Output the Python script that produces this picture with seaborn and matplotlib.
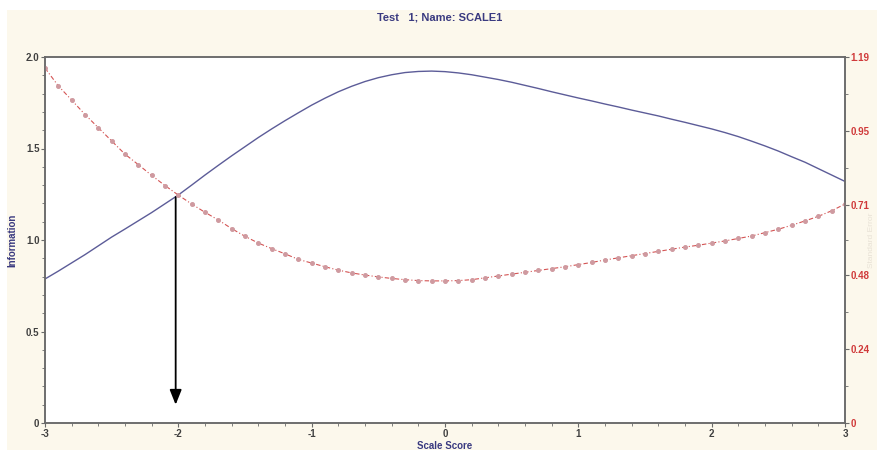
import numpy as np
import pandas as pd
import matplotlib
matplotlib.use("Agg")
import matplotlib.pyplot as plt
import seaborn as sns
from matplotlib.patches import Rectangle
from matplotlib.ticker import MultipleLocator, FixedLocator

# ==========================================
# DATA
# ==========================================
SCORES = [round(-3.0 + 0.1 * i, 1) for i in range(61)]

INFORMATION = [
    0.787, 0.830, 0.875, 0.920, 0.968, 1.016, 1.060, 1.105, 1.150, 1.198,
    1.246, 1.300, 1.355, 1.408, 1.460, 1.510, 1.560, 1.607, 1.652, 1.695,
    1.737, 1.775, 1.810, 1.840, 1.866, 1.887, 1.903, 1.915, 1.921, 1.923,
    1.920, 1.913, 1.903, 1.890, 1.877, 1.862, 1.845, 1.828, 1.810, 1.793,
    1.776, 1.760, 1.743, 1.727, 1.710, 1.694, 1.678, 1.660, 1.643, 1.625,
    1.607, 1.587, 1.565, 1.540, 1.514, 1.486, 1.455, 1.425, 1.390, 1.355,
    1.320,
]

STD_ERROR = [
    1.154, 1.096, 1.050, 1.003, 0.960, 0.917, 0.874, 0.840, 0.805, 0.772,
    0.741, 0.712, 0.685, 0.660, 0.632, 0.607, 0.585, 0.567, 0.550, 0.532,
    0.520, 0.508, 0.497, 0.488, 0.481, 0.475, 0.470, 0.466, 0.463, 0.462,
    0.462, 0.463, 0.466, 0.472, 0.478, 0.484, 0.490, 0.496, 0.502, 0.508,
    0.515, 0.522, 0.530, 0.537, 0.544, 0.551, 0.558, 0.565, 0.572, 0.578,
    0.585, 0.592, 0.600, 0.608, 0.619, 0.630, 0.643, 0.657, 0.672, 0.690,
    0.712,
]

LEFT_TICKS = [0, 0.5, 1.0, 1.5, 2.0]
LEFT_LABELS = ["0", "0.5", "1.0", "1.5", "2.0"]
RIGHT_TICKS = [0, 0.24, 0.48, 0.71, 0.95, 1.19]
RIGHT_LABELS = ["0", "0.24", "0.48", "0.71", "0.95", "1.19"]
X_TICKS = [-3, -2, -1, 0, 1, 2, 3]

ARROW_X = -2.02
ARROW_FROM = 1.235
ARROW_TO = 0.10

# ==========================================
# STYLE
# ==========================================
sns.set_theme(style="white")
plt.rcParams['font.family'] = ['Liberation Sans', 'DejaVu Sans']

NAVY = "#3a3a80"
BLUE_LINE = "#5c5c98"
RED_LINE = "#d45454"
RED_MARK = "#cf9aa0"
RED_TEXT = "#d03a3a"
CREAM = "#fcf8ec"
FRAME = "#6a6a6a"

df = pd.DataFrame({"score": SCORES, "info": INFORMATION, "se": STD_ERROR})

fig = plt.figure(figsize=(8.77, 4.5), dpi=100, facecolor="white")
fig.patches.append(Rectangle((0.008, 0), 0.992, 1 - 10 / 450, transform=fig.transFigure,
                             facecolor=CREAM, edgecolor="none", zorder=-10))

ax = fig.add_axes([45 / 877, 27 / 450, 800 / 877, 366 / 450])
ax.set_facecolor("white")

# information curve
sns.lineplot(data=df, x="score", y="info", ax=ax, color=BLUE_LINE, linewidth=1.0)
ax.set_xlim(-3, 3)
ax.set_ylim(0, 2.0)

# standard error curve on the right axis
ax2 = ax.twinx()
sns.lineplot(data=df, x="score", y="se", ax=ax2, color=RED_LINE, linewidth=0.8,
             linestyle=(0, (4, 2, 1, 2)), marker="o", markersize=2.8,
             markerfacecolor=RED_MARK, markeredgecolor=RED_MARK)
ax2.set_ylim(0, 1.19)

# arrow
ax.annotate("", xy=(ARROW_X, ARROW_TO), xytext=(ARROW_X, ARROW_FROM),
            arrowprops=dict(arrowstyle="-|>,head_length=0.75,head_width=0.3",
                            color="black", lw=1.3, shrinkA=0, shrinkB=0))

# axes / ticks
for a in (ax, ax2):
    for s in a.spines.values():
        s.set_color(FRAME)
        s.set_linewidth(1.1)

tick_font = dict(fontsize=7, fontweight="bold")
ax.set_yticks(LEFT_TICKS)
ax.set_yticklabels(LEFT_LABELS, color="#404040", **tick_font)
ax.yaxis.set_minor_locator(MultipleLocator(0.1))
ax.set_xticks(X_TICKS)
ax.set_xticklabels([str(t) for t in X_TICKS], color="#404040", **tick_font)
ax.xaxis.set_minor_locator(MultipleLocator(0.2))
ax.tick_params(axis="both", which="major", direction="out", length=3, width=0.8,
               color=FRAME, pad=1, left=True, bottom=True)
ax.tick_params(axis="both", which="minor", direction="out", length=2, width=0.6,
               color=FRAME, left=True, bottom=True)

ax2.set_yticks(RIGHT_TICKS)
ax2.set_yticklabels(RIGHT_LABELS, color=RED_TEXT, **tick_font)
ax2.yaxis.set_minor_locator(FixedLocator([0.12, 0.36, 0.595, 0.83, 1.07]))
ax2.tick_params(axis="y", which="major", direction="out", length=3, width=0.8,
                color=FRAME, pad=1, right=True)
ax2.tick_params(axis="y", which="minor", direction="out", length=2, width=0.6,
                color=FRAME, right=True)

ax.set_xlabel("Scale Score", color=NAVY, fontsize=7, fontweight="bold", labelpad=2)
ax.set_ylabel("Information", color=NAVY, fontsize=7, fontweight="bold", labelpad=6)
ax2.set_ylabel("Standard Error", color="#e8e2d6", fontsize=6)
ax2.yaxis.set_label_coords((868 - 45) / 800, 0.5)

fig.text(440 / 877, 1 - 17 / 450, "Test   1; Name: SCALE1", ha="center", va="center",
         color=NAVY, fontsize=8, fontweight="bold")

fig.savefig("out.png", dpi=100, facecolor=fig.get_facecolor())
